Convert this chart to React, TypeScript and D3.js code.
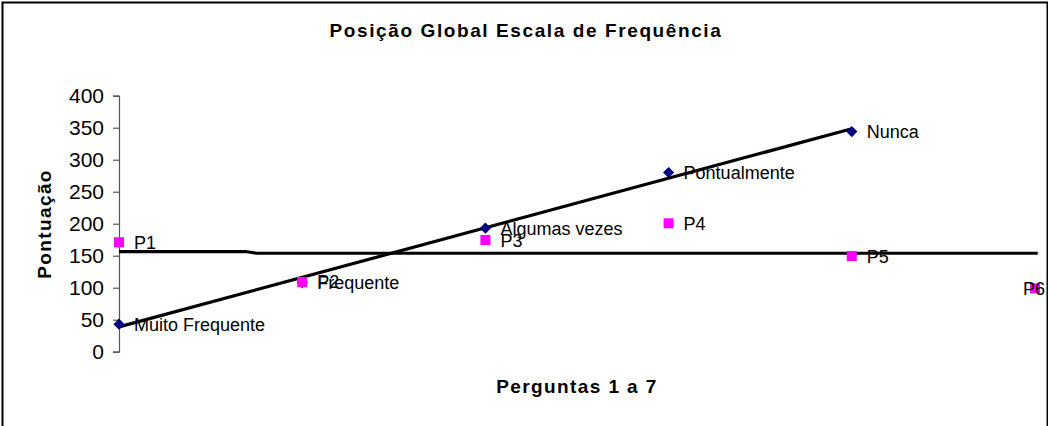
import React, { useEffect, useRef } from 'react';
import * as d3 from 'd3';

// navy series: frequency categories
const freqLabels = ['Muito Frequente', 'Frequente', 'Algumas vezes', 'Pontualmente', 'Nunca'];
const freqValues = [43, 108, 193, 280, 344];

// magenta series: questions
const questionLabels = ['P1', 'P2', 'P3', 'P4', 'P5', 'P6'];
const questionValues = [171, 109, 174.5, 200.6, 149.5, 99];

// flat reference line (x position, value)
const refX = [1, 1.69, 1.75, 6.015];
const refY = [156.5, 156.5, 153.8, 153.8];

const yTicks = [0, 50, 100, 150, 200, 250, 300, 350, 400];

const W = 1048;
const H = 426;
const FONT = 'Arial, "Liberation Sans", sans-serif';

const App = () => {
  const svgRef = useRef<SVGSVGElement>(null);

  useEffect(() => {
    const svg = d3.select(svgRef.current);
    svg.selectAll('*').remove();

    const margin = { left: 119, right: 1035, top: 95.7, bottom: 351.7 };

    const x = d3.scaleLinear().domain([1, 6]).range([margin.left, margin.right]);
    const y = d3.scaleLinear().domain([0, 400]).range([margin.bottom, margin.top]);

    // background + frame
    svg.append('rect')
      .attr('x', 0).attr('y', 0).attr('width', W).attr('height', H)
      .attr('fill', 'white');
    svg.append('rect')
      .attr('x', 2.5).attr('y', 2.5).attr('width', W - 3).attr('height', H + 20)
      .attr('fill', 'none').attr('stroke', 'black').attr('stroke-width', 2);

    // title
    svg.append('text')
      .attr('x', 526).attr('y', 37)
      .attr('text-anchor', 'middle')
      .style('font-family', FONT).style('font-size', '19px').style('font-weight', 'bold')
      .style('letter-spacing', '1.6px')
      .text('Posição Global Escala de Frequência');

    // y axis
    const yAxis = svg.append('g')
      .attr('transform', `translate(${margin.left},0)`)
      .call(d3.axisLeft(y).tickValues(yTicks).tickSize(6).tickPadding(9));
    yAxis.select('.domain').attr('stroke', '#555').attr('stroke-width', 1.2);
    yAxis.selectAll('.tick line').attr('stroke', '#555').attr('stroke-width', 1.2);
    yAxis.selectAll('.tick text')
      .style('font-family', FONT).style('font-size', '21px').attr('fill', 'black');

    // axis titles
    svg.append('text')
      .attr('transform', 'translate(51,224) rotate(-90)')
      .attr('text-anchor', 'middle')
      .style('font-family', FONT).style('font-size', '19px').style('font-weight', 'bold')
      .style('letter-spacing', '1.4px')
      .text('Pontuação');
    svg.append('text')
      .attr('x', 577).attr('y', 393)
      .attr('text-anchor', 'middle')
      .style('font-family', FONT).style('font-size', '19px').style('font-weight', 'bold')
      .style('letter-spacing', '1.4px')
      .text('Perguntas 1 a 7');

    // reference line
    const refData = refX.map((v, i) => [v, refY[i]] as [number, number]);
    svg.append('path')
      .datum(refData)
      .attr('d', d3.line<[number, number]>().x(d => x(d[0])).y(d => y(d[1])))
      .attr('fill', 'none').attr('stroke', 'black').attr('stroke-width', 3.2);

    // linear trend of the frequency series
    const xs = freqValues.map((_, i) => i + 1);
    const mx = d3.mean(xs) as number;
    const my = d3.mean(freqValues) as number;
    const slope = d3.sum(xs, (xv, i) => (xv - mx) * (freqValues[i] - my)) / d3.sum(xs, xv => (xv - mx) ** 2);
    const trend = [1, freqValues.length].map(xv => [xv, my + slope * (xv - mx)] as [number, number]);
    svg.append('path')
      .datum(trend)
      .attr('d', d3.line<[number, number]>().x(d => x(d[0])).y(d => y(d[1])))
      .attr('fill', 'none').attr('stroke', 'black').attr('stroke-width', 3.2);

    // navy diamonds
    svg.selectAll('.freq')
      .data(freqValues)
      .enter()
      .append('path')
      .attr('class', 'freq')
      .attr('transform', (d, i) => `translate(${x(i + 1)},${y(d)})`)
      .attr('d', d3.symbol(d3.symbolDiamond2, 80)())
      .attr('fill', '#000080');

    // magenta squares
    svg.selectAll('.quest')
      .data(questionValues)
      .enter()
      .append('rect')
      .attr('class', 'quest')
      .attr('x', (d, i) => x(i + 1) - 5)
      .attr('y', d => y(d) - 5)
      .attr('width', 10).attr('height', 10)
      .attr('fill', '#FF00FF');

    // labels (overlapping like in the original chart)
    const addLabels = (labels: string[], values: number[]) => {
      labels.forEach((lab, i) => {
        const px = x(i + 1) + 15;
        const t = svg.append('text')
          .attr('x', px).attr('y', y(values[i]))
          .attr('dy', '0.36em')
          .style('font-family', FONT).style('font-size', '18px')
          .attr('fill', 'black')
          .text(lab);
        const w = (t.node() as SVGTextElement).getComputedTextLength();
        if (px + w > W - 2) t.attr('x', W - 3).attr('text-anchor', 'end');
      });
    };
    addLabels(questionLabels, questionValues);
    addLabels(freqLabels, freqValues);
  }, []);

  return (
    <svg
      ref={svgRef}
      width={W}
      height={H}
      style={{ position: 'absolute', left: 0, top: 0, display: 'block' }}
    ></svg>
  );
};

export default App;
